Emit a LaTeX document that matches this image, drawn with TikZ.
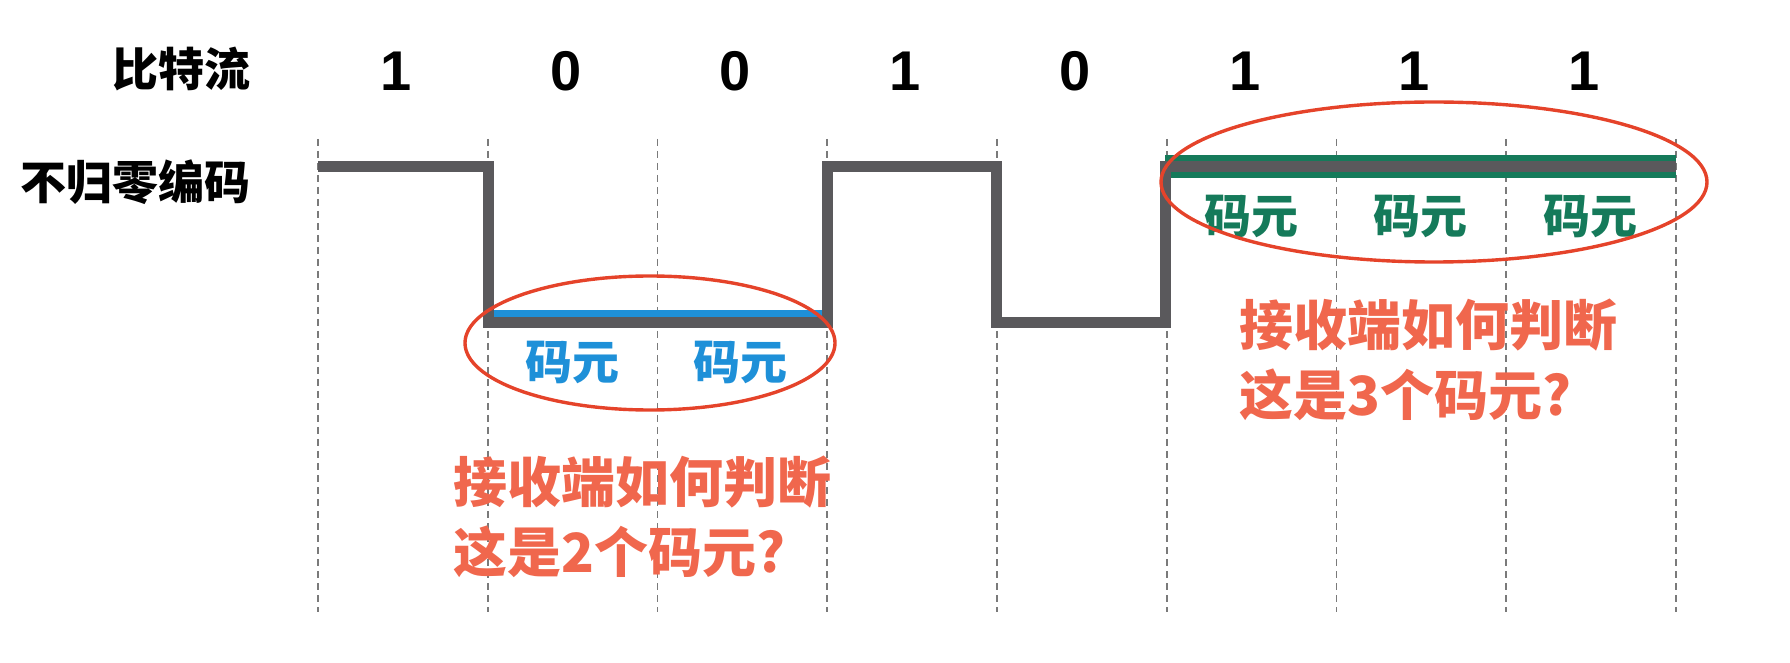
\documentclass[tikz,border=0pt]{standalone}
\usepackage{fontspec}
\setmainfont{Liberation Sans}
\newfontfamily\cjk{Noto Sans CJK SC}
\usepackage{tikz}

\definecolor{wavegray}{HTML}{5A595C}
\definecolor{gridgray}{HTML}{7A7A7A}
\definecolor{ovalred}{HTML}{E5432A}
\definecolor{askred}{HTML}{F0674D}
\definecolor{codeblue}{HTML}{1E90D8}
\definecolor{codegreen}{HTML}{157A5A}

\tikzset{
  gridline/.style={gridgray, line width=0.8pt, dash pattern=on 3.5pt off 2.5pt},
  wave/.style={wavegray, line width=5.5pt, line join=miter},
  oval/.style={ovalred, line width=1.7pt},
  lab/.style={font=\cjk\bfseries\fontsize{23}{23}\selectfont, inner sep=0pt},
  bit/.style={font=\bfseries\fontsize{28}{28}\selectfont, inner sep=0pt},
  unit/.style={font=\cjk\bfseries\fontsize{23.5}{23.5}\selectfont, inner sep=0pt},
  ask/.style={askred, font=\cjk\bfseries\fontsize{27}{35}\selectfont, align=left, inner sep=0pt}
}

\begin{document}
\begin{tikzpicture}[x=0.5pt,y=-0.5pt]
\useasboundingbox (0,0) rectangle (1790,663);
%Построение сетки
\foreach \i in {0,...,8}
  \draw[gridline] ({318+169.75*\i},139)--({318+169.75*\i},612);
%Подписи строк
\node[lab, anchor=east] (bits) at (251,69) {比特流};
\node[lab, anchor=east] (nrz) at (251,182) {不归零编码};
%Биты
\foreach \b [count=\i from 0] in {1,0,0,1,0,1,1,1}
  \node[bit] (b\i) at ({396+169.75*\i},71) {\b};
%Подсветка кодовых элементов
\draw[codeblue, line width=9pt] (488,319)--(827,319);
\draw[codegreen, line width=11.5pt] (1165,166.5)--(1676,166.5);
%Построение сигнала
\draw[wave] (318,167)--(488,167)--(488,323)--(827,323)--(827,167)--(996,167)
  --(996,323)--(1165,323)--(1165,167)--(1676,167);
%Кодовые элементы
\node[unit, codeblue] (u1) at (572,363) {码元};
\node[unit, codeblue] (u2) at (740,363) {码元};
\foreach \i in {0,1,2}
  \node[unit, codegreen] (g\i) at ({1251+169.75*\i},217) {码元};
%Эллипсы
\draw[oval] (650,343) ellipse [x radius=185, y radius=67];
\draw[oval] (1434,182) ellipse [x radius=273, y radius=80];
%Вопросы
\node[ask, anchor=west] (q1) at (453,517) {接收端如何判断\\这是2个码元?};
\node[ask, anchor=west] (q2) at (1239,360) {接收端如何判断\\这是3个码元?};
\end{tikzpicture}
\end{document}
